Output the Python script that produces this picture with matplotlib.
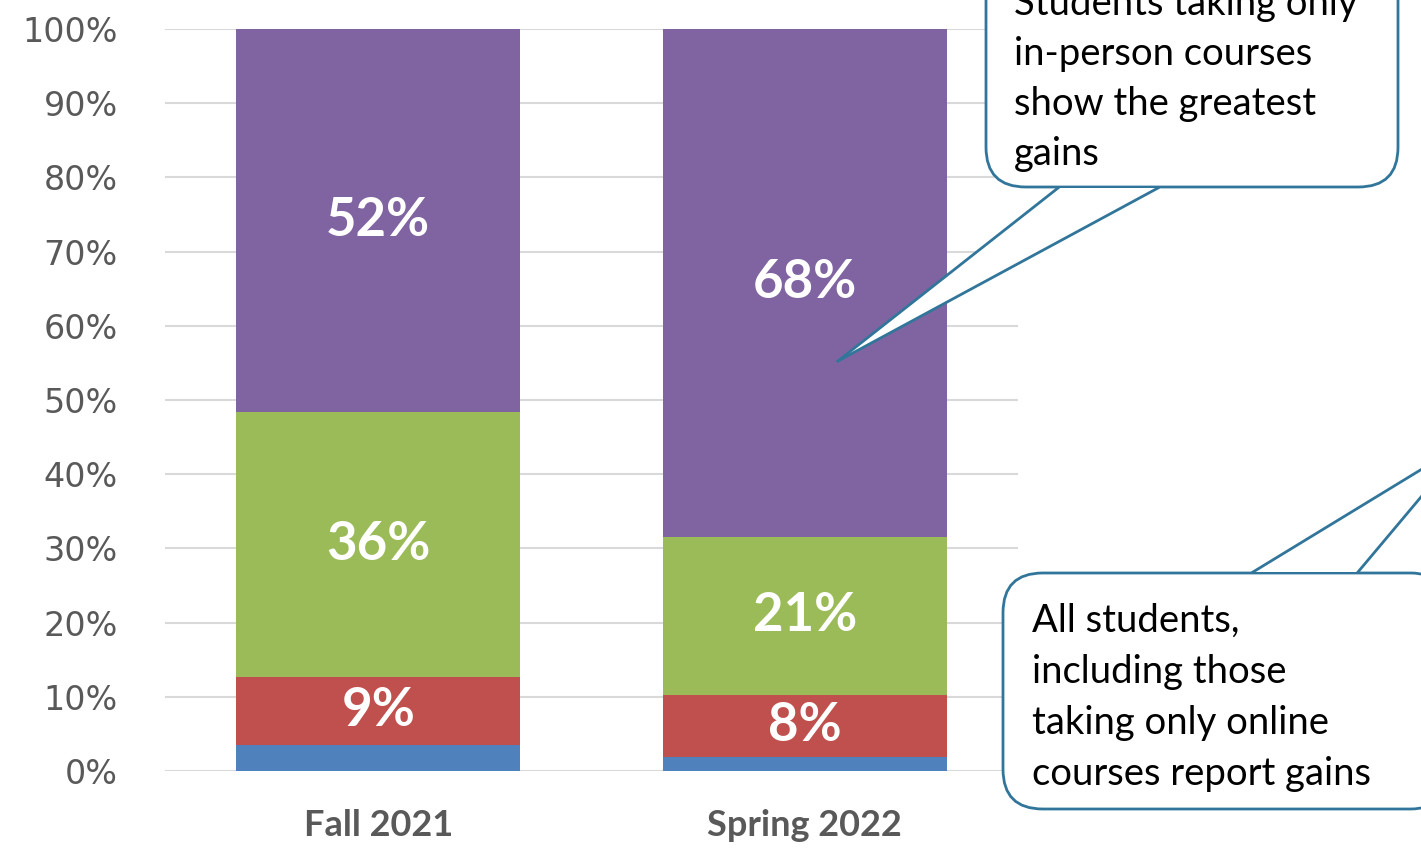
import matplotlib.pyplot as plt
from matplotlib.patches import FancyBboxPatch, Polygon
from matplotlib.lines import Line2D

# Data
semesters = ["Fall 2021", "Spring 2022"]
blue_vals = [3.5, 1.9]
red_vals = [9.2, 8.4]
green_vals = [35.7, 21.3]
purple_vals = [51.6, 68.4]
series_colors = ["#4F81BD", "#C0504D", "#9BBB59", "#8064A2"]
y_ticks = [0, 10, 20, 30, 40, 50, 60, 70, 80, 90, 100]

callout_top_lines = ["Students taking only", "in-person courses", "show the greatest", "gains"]
callout_bottom_lines = ["All students,", "including those", "taking only online", "courses report gains"]

W, H = 1421, 850
EDGE = "#31769A"


def px(x, y):
    """Pixel coordinates (from top-left) to figure fraction."""
    return x / W, 1 - y / H


fig = plt.figure(figsize=(W / 100, H / 100), dpi=100)
ax = fig.add_axes([165 / W, (H - 771) / H, (1018 - 165) / W, (771 - 29) / H])

x = list(range(len(semesters)))
bottom = [0.0] * len(semesters)
for vals, color in zip([blue_vals, red_vals, green_vals, purple_vals], series_colors):
    ax.bar(x, vals, width=0.666, bottom=bottom, color=color, zorder=2)
    for i, v in enumerate(vals):
        if v >= 5:
            ax.text(i, bottom[i] + v / 2, f"{v:.0f}%", ha="center", va="center",
                    color="white", fontsize=38, fontweight="bold", family="Lato", zorder=3)
    bottom = [b + v for b, v in zip(bottom, vals)]

ax.set_xlim(-0.5, 1.5)
ax.set_ylim(0, 100)
ax.set_yticks(y_ticks)
ax.set_yticklabels([f"{t}%" for t in y_ticks], fontsize=24, color="#595959", family="DejaVu Sans")
ax.set_xticks(x)
ax.set_xticklabels(semesters, fontsize=26, fontweight="bold", color="#595959", family="Lato")
ax.tick_params(axis="y", length=0, pad=34)
ax.tick_params(axis="x", length=0, pad=27)
ax.grid(axis="y", color="#D9D9D9", linewidth=1.5, zorder=0)
for s in ax.spines.values():
    s.set_visible(False)


def callout(x0, y0, x1, y1, base_a, base_b, tip):
    """Rounded box (pixel coords) with a pointer leaving from edge y=base_y."""
    fx0, fy1 = px(x0, y1)
    fx1, fy0 = px(x1, y0)
    box = FancyBboxPatch((fx0, fy1), fx1 - fx0, fy0 - fy1,
                         boxstyle="round,pad=0,rounding_size=0.028",
                         transform=fig.transFigure, facecolor="white",
                         edgecolor=EDGE, linewidth=2, zorder=5,
                         mutation_aspect=W / H)
    fig.add_artist(box)
    tri = Polygon([px(*base_a), px(*base_b), px(*tip)], closed=True,
                  transform=fig.transFigure, facecolor="white", edgecolor="none", zorder=6)
    fig.add_artist(tri)
    for b in (base_a, base_b):
        (ax_, ay_), (bx_, by_) = px(*b), px(*tip)
        fig.add_artist(Line2D([ax_, bx_], [ay_, by_], transform=fig.transFigure,
                              color=EDGE, linewidth=2, zorder=7))


callout(986, -60, 1398, 187, (1058, 188), (1158, 188), (838, 361))
callout(1003, 573, 1450, 809, (1253, 572), (1358, 572), (1468, 441))

for i, line in enumerate(callout_top_lines):
    fig.text(*px(1014, 4 + 50 * i), line, ha="left", va="center", fontsize=27.5,
             family="Lato", color="black", zorder=8)
for i, line in enumerate(callout_bottom_lines):
    fig.text(*px(1032, 621 + 51 * i), line, ha="left", va="center", fontsize=27.5,
             family="Lato", color="black", zorder=8)

fig.savefig("out.png", dpi=100)
